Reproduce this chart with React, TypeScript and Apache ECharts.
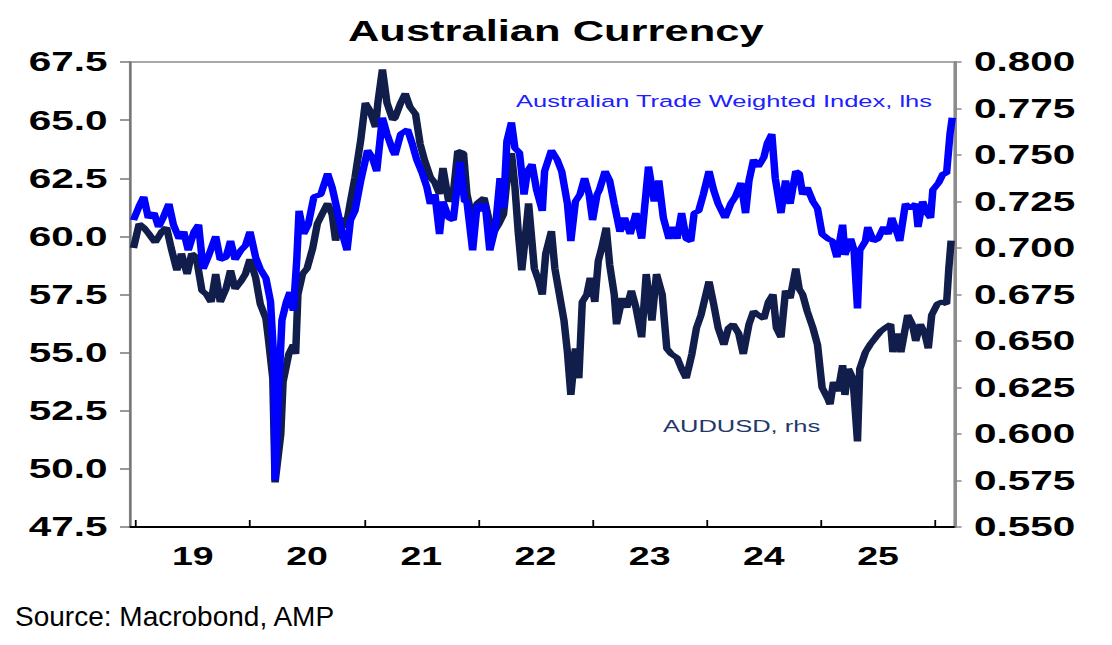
import { useRef, useEffect } from "react";
import * as echarts from "echarts";

// the original picture is stretched sideways, so the chart is drawn narrow and scaled
const STRETCH = 1.5;
const PAGE_W = 1112;
const PAGE_H = 645;
const FONT = "'Liberation Sans', Arial, sans-serif";

// x axis: decimal years, ticks at year starts, labels mid-year
const yearTicks = [2019, 2020, 2021, 2022, 2023, 2024, 2025, 2026];
const yearLabels = [2019.5, 2020.5, 2021.5, 2022.5, 2023.5, 2024.5, 2025.5];

// Australian Trade Weighted Index (lhs)
const twiIndex: [number, number][] = [
  [2018.98, 60.7], [2019.03, 61.3], [2019.07, 61.7], [2019.11, 60.8], [2019.16, 61.0], [2019.2, 60.4],
  [2019.24, 60.8], [2019.29, 61.4], [2019.33, 60.5], [2019.38, 59.9], [2019.42, 60.2], [2019.46, 59.4],
  [2019.51, 60.2], [2019.55, 60.5], [2019.59, 58.6], [2019.64, 59.2], [2019.7, 60.0], [2019.74, 59.0],
  [2019.79, 59.1], [2019.83, 59.8], [2019.87, 59.0], [2019.92, 59.4], [2019.96, 59.6], [2020.0, 60.2],
  [2020.05, 59.1], [2020.09, 58.6], [2020.14, 58.2], [2020.18, 57.2], [2020.21, 54.6], [2020.22, 49.5],
  [2020.25, 53.2], [2020.28, 56.4], [2020.32, 57.2], [2020.35, 57.6], [2020.38, 56.8], [2020.41, 59.0],
  [2020.43, 61.1], [2020.47, 60.1], [2020.51, 60.5], [2020.56, 61.7], [2020.62, 61.8], [2020.68, 62.7],
  [2020.72, 62.1], [2020.77, 61.0], [2020.81, 60.1], [2020.85, 59.4], [2020.88, 60.7], [2020.92, 61.1],
  [2020.97, 62.4], [2021.03, 63.7], [2021.07, 63.4], [2021.11, 62.8], [2021.16, 65.1], [2021.2, 64.4],
  [2021.25, 63.7], [2021.27, 63.5], [2021.32, 64.4], [2021.38, 64.6], [2021.42, 64.0], [2021.46, 63.3],
  [2021.51, 62.7], [2021.55, 62.1], [2021.58, 61.4], [2021.62, 61.8], [2021.66, 60.1], [2021.69, 61.5],
  [2021.74, 60.8], [2021.78, 60.7], [2021.84, 63.2], [2021.88, 61.5], [2021.9, 61.5], [2021.95, 59.4],
  [2021.99, 61.4], [2022.03, 61.1], [2022.06, 61.4], [2022.1, 59.4], [2022.15, 60.4], [2022.19, 62.5],
  [2022.22, 61.2], [2022.25, 64.1], [2022.29, 64.9], [2022.32, 63.8], [2022.36, 63.6], [2022.4, 61.8],
  [2022.43, 62.8], [2022.47, 63.1], [2022.51, 62.0], [2022.56, 61.1], [2022.58, 62.8], [2022.64, 63.7],
  [2022.69, 63.3], [2022.73, 62.8], [2022.78, 61.4], [2022.81, 59.8], [2022.85, 61.5], [2022.89, 61.8],
  [2022.93, 62.5], [2022.97, 61.8], [2023.0, 60.7], [2023.04, 61.8], [2023.06, 62.0], [2023.11, 62.8],
  [2023.15, 62.4], [2023.19, 61.4], [2023.24, 60.2], [2023.28, 60.8], [2023.33, 60.1], [2023.38, 61.0],
  [2023.43, 59.9], [2023.49, 63.0], [2023.54, 61.5], [2023.58, 62.4], [2023.62, 60.8], [2023.67, 59.9],
  [2023.71, 60.4], [2023.74, 59.9], [2023.78, 61.0], [2023.82, 59.9], [2023.86, 59.8], [2023.89, 61.0],
  [2023.93, 61.1], [2023.97, 61.8], [2024.02, 62.8], [2024.06, 62.0], [2024.1, 61.4], [2024.16, 60.8],
  [2024.21, 61.4], [2024.25, 61.7], [2024.3, 62.3], [2024.34, 61.0], [2024.37, 62.4], [2024.41, 63.3],
  [2024.45, 63.0], [2024.5, 63.4], [2024.53, 64.0], [2024.57, 64.4], [2024.6, 62.5], [2024.65, 61.0],
  [2024.69, 62.4], [2024.73, 61.4], [2024.78, 62.8], [2024.81, 62.7], [2024.84, 61.8], [2024.88, 62.1],
  [2024.93, 61.5], [2024.97, 61.2], [2025.01, 60.1], [2025.06, 59.9], [2025.1, 59.8], [2025.14, 59.1],
  [2025.19, 60.5], [2025.21, 59.2], [2025.26, 59.9], [2025.29, 59.4], [2025.32, 56.9], [2025.34, 59.4],
  [2025.39, 59.8], [2025.41, 60.4], [2025.46, 59.8], [2025.5, 59.9], [2025.55, 60.4], [2025.59, 60.1],
  [2025.62, 60.8], [2025.67, 60.1], [2025.69, 59.8], [2025.74, 61.4], [2025.78, 61.2], [2025.83, 61.4],
  [2025.85, 60.4], [2025.89, 61.5], [2025.93, 61.0], [2025.96, 60.8], [2025.98, 62.0], [2026.03, 62.3],
  [2026.07, 62.7], [2026.1, 62.7], [2026.13, 64.4], [2026.15, 65.1],
];

// AUDUSD (rhs)
const audUsd: [number, number][] = [
  [2018.98, 0.7], [2019.03, 0.713], [2019.07, 0.711], [2019.11, 0.708], [2019.17, 0.703], [2019.23, 0.709],
  [2019.27, 0.711], [2019.31, 0.7], [2019.36, 0.688], [2019.4, 0.697], [2019.45, 0.686], [2019.49, 0.697],
  [2019.53, 0.695], [2019.58, 0.677], [2019.62, 0.675], [2019.66, 0.671], [2019.7, 0.686], [2019.74, 0.671],
  [2019.79, 0.678], [2019.83, 0.688], [2019.87, 0.678], [2019.92, 0.682], [2019.96, 0.686], [2020.0, 0.694],
  [2020.05, 0.684], [2020.09, 0.67], [2020.14, 0.662], [2020.16, 0.652], [2020.2, 0.63], [2020.22, 0.574],
  [2020.27, 0.6], [2020.29, 0.628], [2020.34, 0.643], [2020.38, 0.648], [2020.4, 0.643], [2020.42, 0.675],
  [2020.46, 0.686], [2020.5, 0.689], [2020.55, 0.7], [2020.59, 0.713], [2020.63, 0.718], [2020.68, 0.724],
  [2020.72, 0.718], [2020.75, 0.704], [2020.79, 0.716], [2020.84, 0.711], [2020.88, 0.725], [2020.92, 0.738],
  [2020.97, 0.758], [2021.01, 0.778], [2021.05, 0.774], [2021.1, 0.765], [2021.12, 0.778], [2021.16, 0.796],
  [2021.2, 0.778], [2021.25, 0.769], [2021.27, 0.77], [2021.32, 0.778], [2021.36, 0.783], [2021.4, 0.776],
  [2021.45, 0.772], [2021.49, 0.756], [2021.53, 0.747], [2021.58, 0.738], [2021.62, 0.735], [2021.66, 0.729],
  [2021.69, 0.743], [2021.74, 0.725], [2021.78, 0.729], [2021.82, 0.752], [2021.87, 0.751], [2021.9, 0.729],
  [2021.95, 0.715], [2021.99, 0.724], [2022.05, 0.727], [2022.09, 0.716], [2022.14, 0.709], [2022.18, 0.713],
  [2022.22, 0.718], [2022.26, 0.742], [2022.29, 0.751], [2022.32, 0.733], [2022.35, 0.708], [2022.38, 0.688],
  [2022.41, 0.705], [2022.44, 0.724], [2022.49, 0.689], [2022.53, 0.682], [2022.56, 0.675], [2022.59, 0.697],
  [2022.64, 0.709], [2022.67, 0.689], [2022.71, 0.675], [2022.75, 0.661], [2022.78, 0.644], [2022.81, 0.621],
  [2022.85, 0.646], [2022.88, 0.63], [2022.91, 0.671], [2022.95, 0.675], [2022.98, 0.684], [2023.02, 0.671],
  [2023.05, 0.693], [2023.08, 0.7], [2023.12, 0.711], [2023.15, 0.691], [2023.19, 0.675], [2023.21, 0.659],
  [2023.26, 0.673], [2023.3, 0.668], [2023.34, 0.677], [2023.38, 0.668], [2023.43, 0.652], [2023.47, 0.686],
  [2023.52, 0.661], [2023.56, 0.686], [2023.61, 0.675], [2023.65, 0.646], [2023.69, 0.643], [2023.74, 0.641],
  [2023.78, 0.635], [2023.82, 0.63], [2023.87, 0.643], [2023.91, 0.657], [2023.95, 0.664], [2024.02, 0.682],
  [2024.06, 0.67], [2024.1, 0.657], [2024.15, 0.648], [2024.19, 0.657], [2024.23, 0.659], [2024.28, 0.654],
  [2024.32, 0.643], [2024.37, 0.659], [2024.41, 0.666], [2024.45, 0.664], [2024.5, 0.662], [2024.54, 0.671],
  [2024.58, 0.675], [2024.61, 0.657], [2024.65, 0.652], [2024.69, 0.677], [2024.73, 0.673], [2024.78, 0.689],
  [2024.81, 0.678], [2024.84, 0.675], [2024.88, 0.666], [2024.93, 0.657], [2024.97, 0.648], [2025.01, 0.625],
  [2025.06, 0.619], [2025.08, 0.616], [2025.11, 0.628], [2025.15, 0.623], [2025.19, 0.637], [2025.21, 0.621],
  [2025.24, 0.635], [2025.28, 0.63], [2025.32, 0.596], [2025.34, 0.635], [2025.39, 0.644], [2025.43, 0.648],
  [2025.48, 0.652], [2025.52, 0.655], [2025.56, 0.657], [2025.61, 0.659], [2025.63, 0.644], [2025.67, 0.654],
  [2025.7, 0.644], [2025.76, 0.664], [2025.8, 0.659], [2025.83, 0.65], [2025.87, 0.659], [2025.91, 0.654],
  [2025.94, 0.646], [2025.97, 0.664], [2026.02, 0.67], [2026.06, 0.671], [2026.1, 0.67], [2026.12, 0.689],
  [2026.14, 0.704],
];

const App = () => {
  const chartRef = useRef<HTMLDivElement>(null);

  useEffect(() => {
    const chart = echarts.init(chartRef.current, null, { renderer: "svg" });

    const axisLabel = {
      color: "#000",
      fontFamily: FONT,
      fontWeight: "bold" as const,
      fontSize: 27,
    };

    chart.setOption({
      animation: false,
      title: {
        text: "Australian Currency",
        left: "center",
        top: 17,
        padding: 0,
        textStyle: { fontFamily: FONT, fontWeight: "bold", fontSize: 29, color: "#000" },
      },
      grid: {
        left: 86.7,
        right: PAGE_W / STRETCH - 636.7,
        top: 62,
        bottom: 118,
        show: true,
        borderColor: "#8c8c8c",
        borderWidth: 1.5,
      },
      xAxis: {
        type: "value",
        min: 2018.95,
        max: 2026.17,
        splitLine: { show: false },
        axisLine: { onZero: false, lineStyle: { color: "#000", width: 2 } },
        axisTick: { inside: true, length: 7, customValues: yearTicks, lineStyle: { color: "#000", width: 1.2 } },
        axisLabel: {
          ...axisLabel,
          fontSize: 25,
          margin: 17,
          customValues: yearLabels,
          formatter: (v: number) => String(Math.floor(v) - 2000),
        },
      },
      yAxis: [
        {
          type: "value",
          min: 47.5,
          max: 67.5,
          interval: 2.5,
          splitLine: { show: false },
          axisLine: { show: true, onZero: false, lineStyle: { color: "#777", width: 1.5 } },
          axisTick: { show: true, length: 6.7, lineStyle: { color: "#777", width: 1.5 } },
          axisLabel: { ...axisLabel, margin: 15, formatter: (v: number) => v.toFixed(1) },
        },
        {
          type: "value",
          position: "right",
          min: 0.55,
          max: 0.8,
          interval: 0.025,
          splitLine: { show: false },
          axisLine: { show: true, onZero: false, lineStyle: { color: "#8c8c8c", width: 2 } },
          axisTick: { show: true, length: 4.7, lineStyle: { color: "#8c8c8c", width: 1.5 } },
          axisLabel: { ...axisLabel, margin: 13, formatter: (v: number) => v.toFixed(3) },
        },
      ],
      series: [
        {
          name: "AUDUSD, rhs",
          type: "line",
          yAxisIndex: 1,
          data: audUsd,
          showSymbol: false,
          lineStyle: { color: "#111d4a", width: 5 },
          itemStyle: { color: "#111d4a" },
        },
        {
          name: "Australian Trade Weighted Index, lhs",
          type: "line",
          yAxisIndex: 0,
          data: twiIndex,
          showSymbol: false,
          lineStyle: { color: "#0000ff", width: 5 },
          itemStyle: { color: "#0000ff" },
        },
      ],
      graphic: [
        {
          type: "text",
          x: 344,
          y: 101,
          style: {
            text: "Australian Trade Weighted Index, lhs",
            fill: "#2020ff",
            font: `17px ${FONT}`,
            verticalAlign: "middle",
          },
        },
        {
          type: "text",
          x: 442,
          y: 426,
          style: {
            text: "AUDUSD, rhs",
            fill: "#24376a",
            font: `17px ${FONT}`,
            verticalAlign: "middle",
          },
        },
        {
          // the source line is not stretched in the original
          type: "text",
          x: 10,
          y: 617,
          scaleX: 1 / STRETCH,
          style: {
            text: "Source: Macrobond, AMP",
            fill: "#000",
            font: `28px ${FONT}`,
            verticalAlign: "middle",
          },
        },
      ],
    });

    return () => {
      chart.dispose();
    };
  }, []);

  return (
    <div
      ref={chartRef}
      style={{
        position: "absolute",
        left: 0,
        top: 0,
        width: PAGE_W / STRETCH,
        height: PAGE_H,
        transform: `scaleX(${STRETCH})`,
        transformOrigin: "0 0",
      }}
    ></div>
  );
};

export default App;
